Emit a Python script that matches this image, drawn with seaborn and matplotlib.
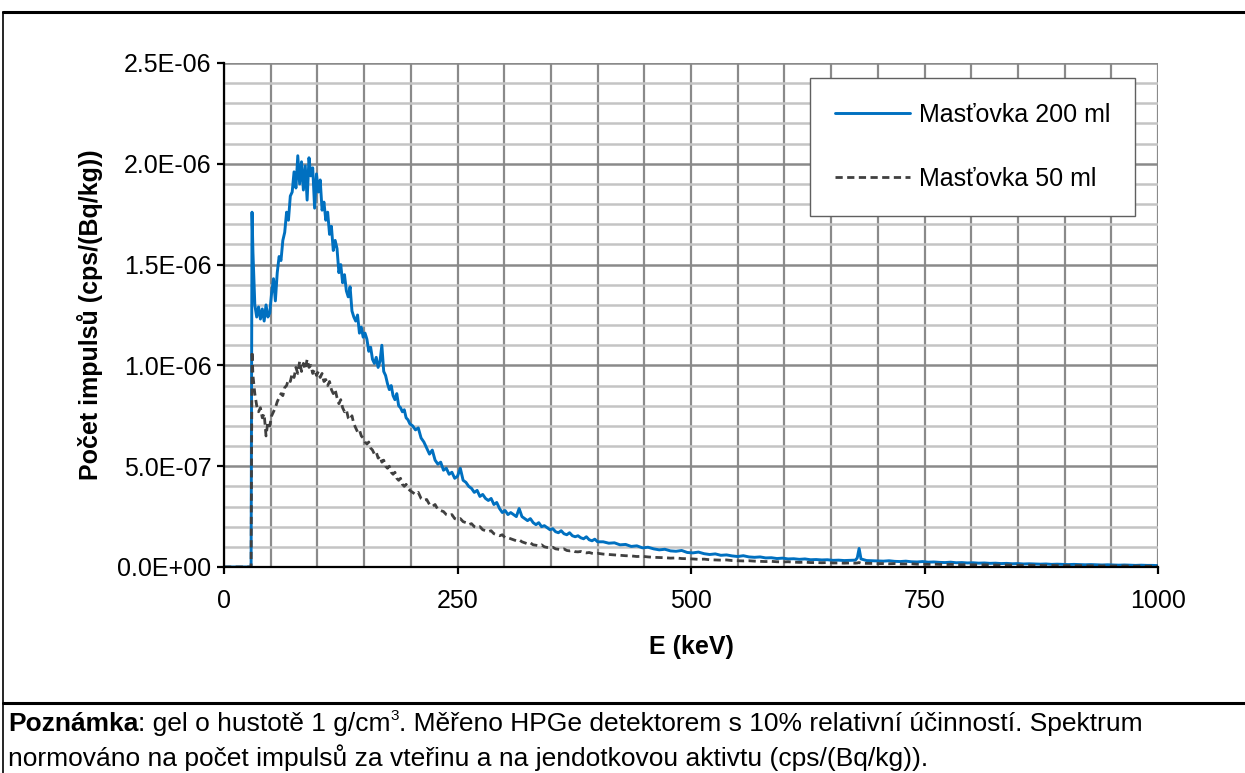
import numpy as np
import pandas as pd
import matplotlib
matplotlib.use("Agg")
import matplotlib.pyplot as plt
from matplotlib.lines import Line2D
from matplotlib.ticker import MultipleLocator, FuncFormatter
import seaborn as sns

# ---------------- data (values in units of 1E-7 cps/(Bq/kg)) ----------------
energy_start = [0, 29, 30]
blue_start = [0.0, 0.0, 17.6]
black_start = [0.0, 0.0, 10.7]

energy_low = [31, 33, 35, 37, 39, 41, 43, 45, 47, 49,
              51, 53, 55, 57, 59, 61, 63, 65, 67, 69,
              71, 73, 75, 77, 79, 81, 83, 85, 87, 89,
              91, 93, 95, 97, 99, 101, 103, 105, 107, 109,
              111, 113, 115, 117, 119, 121, 123, 125, 127, 129,
              131, 133, 135, 137, 139, 141, 143, 145, 147, 149,
              151, 153, 155, 157, 159, 161, 163, 165, 167, 169,
              171, 173, 175, 177, 179, 181, 183, 185, 187, 189,
              191, 193, 195, 197, 199]
blue_low = [15.6, 13.0, 12.4, 12.9, 12.3, 12.8, 12.2, 13.0, 12.4, 12.6,
            13.6, 14.3, 13.2, 14.6, 15.4, 15.2, 16.2, 16.6, 17.6, 17.2,
            18.4, 18.6, 19.6, 18.8, 20.4, 19.0, 20.1, 18.7, 19.9, 18.2,
            20.3, 19.4, 19.8, 17.8, 19.5, 18.6, 19.2, 17.7, 18.1, 17.2,
            17.6, 16.5, 16.9, 15.7, 16.2, 15.8, 14.6, 15.0, 14.1, 14.5,
            13.7, 13.4, 13.9, 12.7, 12.4, 12.2, 12.5, 11.6, 11.9, 11.4,
            11.6, 11.3, 10.7, 10.9, 10.3, 10.1, 10.4, 9.9, 10.2, 11.0,
            9.7, 9.5, 9.1, 8.8, 9.0, 8.5, 8.3, 8.6, 8.0, 7.9,
            7.7, 7.8, 7.4, 7.3, 7.1]
black_low = [9.5, 8.6, 8.0, 7.7, 7.9, 7.4, 7.6, 6.5, 7.2, 7.0,
             7.5, 7.7, 7.9, 8.2, 8.4, 8.6, 8.5, 8.9, 9.0, 9.3,
             9.2, 9.6, 9.4, 9.9, 9.6, 10.2, 9.7, 10.1, 9.8, 10.3,
             9.9, 10.0, 9.6, 9.8, 9.5, 9.7, 9.4, 9.6, 9.2, 9.3,
             9.0, 9.2, 8.8, 8.6, 8.8, 8.4, 8.1, 8.3, 7.9, 7.7,
             7.8, 7.4, 7.3, 7.5, 7.1, 6.9, 6.7, 6.8, 6.5, 6.4,
             6.2, 6.1, 6.2, 5.9, 5.8, 5.6, 5.7, 5.4, 5.5, 5.2,
             5.3, 5.0, 4.9, 5.0, 4.7, 4.6, 4.7, 4.4, 4.3, 4.4,
             4.1, 4.0, 4.1, 3.9, 3.8]

energy_mid = [202, 205, 208, 211, 214, 217, 220, 223, 226, 229,
              232, 235, 238, 241, 244, 247, 250, 253, 256, 259,
              262, 265, 268, 271, 274, 277, 280, 283, 286, 289,
              292, 295, 298, 301, 304, 307, 310, 313, 316, 319,
              322, 325, 328, 331, 334, 337, 340, 343, 346, 349,
              352, 355, 358, 361, 364, 367, 370, 373, 376, 379,
              382, 385, 388, 391, 394, 397, 400]
blue_mid = [7.0, 6.8, 6.9, 6.4, 6.2, 5.9, 5.6, 5.8, 5.3, 5.1,
            5.2, 4.8, 4.9, 4.6, 4.7, 4.4, 4.5, 4.9, 4.3, 4.2,
            4.0, 3.9, 3.7, 3.8, 3.5, 3.6, 3.4, 3.3, 3.4, 3.1,
            3.2, 2.9, 2.7, 2.8, 2.6, 2.7, 2.6, 2.5, 2.9, 2.5,
            2.4, 2.3, 2.4, 2.2, 2.1, 2.2, 2.0, 2.05, 1.95, 1.85,
            1.9, 1.75, 1.7, 1.8, 1.65, 1.6, 1.7, 1.55, 1.5, 1.55,
            1.45, 1.4, 1.5, 1.35, 1.3, 1.38, 1.25]
black_mid = [3.7, 3.6, 3.7, 3.4, 3.3, 3.35, 3.1, 3.0, 3.1, 2.85,
             2.8, 2.75, 2.6, 2.55, 2.6, 2.4, 2.35, 2.4, 2.25, 2.2,
             2.1, 2.15, 2.0, 1.95, 2.0, 1.85, 1.8, 1.75, 1.8, 1.65,
             1.6, 1.55, 1.6, 1.45, 1.45, 1.4, 1.35, 1.3, 1.35, 1.25,
             1.2, 1.15, 1.2, 1.1, 1.08, 1.05, 1.1, 1.0, 0.97, 0.95,
             0.98, 0.9, 0.88, 0.86, 0.9, 0.82, 0.8, 0.82, 0.76, 0.75,
             0.77, 0.72, 0.7, 0.72, 0.68, 0.66, 0.68]

energy_high = [406, 412, 418, 424, 430, 436, 442, 448, 454, 460,
               466, 472, 478, 484, 490, 496, 502, 508, 514, 520,
               526, 532, 538, 544, 550, 556, 562, 568, 574, 580,
               586, 592, 598, 604, 610, 616, 622, 628, 634, 640,
               646, 652, 658, 664, 670, 676, 678, 680, 682, 688,
               694, 700, 706, 712, 718, 724, 730, 736, 742, 748,
               754, 760, 766, 772, 778, 784, 790, 796, 802, 808,
               814, 820, 826, 832, 838, 844, 850, 856, 862, 868,
               874, 880, 886, 892, 898, 904, 910, 916, 922, 928,
               934, 940, 946, 952, 958, 964, 970, 976, 982, 988,
               994, 1000]
blue_high = [1.25, 1.18, 1.2, 1.1, 1.12, 1.02, 1.05, 0.95, 0.98, 0.9,
             0.85, 0.88, 0.8, 0.78, 0.82, 0.72, 0.7, 0.74, 0.66, 0.62,
             0.65, 0.58, 0.6, 0.55, 0.52, 0.56, 0.5, 0.48, 0.5, 0.45,
             0.46, 0.42, 0.44, 0.4, 0.41, 0.38, 0.4, 0.36, 0.37, 0.35,
             0.36, 0.33, 0.34, 0.32, 0.33, 0.34, 0.45, 0.92, 0.4, 0.32,
             0.31, 0.3, 0.29, 0.31, 0.28, 0.27, 0.29, 0.26, 0.25, 0.27,
             0.24, 0.25, 0.23, 0.22, 0.24, 0.21, 0.22, 0.2, 0.21, 0.19,
             0.2, 0.18, 0.19, 0.17, 0.18, 0.16, 0.17, 0.15, 0.16, 0.15,
             0.14, 0.15, 0.13, 0.14, 0.13, 0.12, 0.13, 0.12, 0.11, 0.12,
             0.11, 0.1, 0.11, 0.1, 0.09, 0.1, 0.09, 0.08, 0.09, 0.08,
             0.08, 0.07]
black_high = [0.64, 0.62, 0.6, 0.58, 0.56, 0.55, 0.52, 0.53, 0.5, 0.48,
              0.47, 0.46, 0.44, 0.45, 0.42, 0.41, 0.4, 0.38, 0.39, 0.36,
              0.35, 0.34, 0.35, 0.32, 0.31, 0.3, 0.31, 0.29, 0.28, 0.27,
              0.28, 0.26, 0.25, 0.26, 0.24, 0.23, 0.24, 0.22, 0.22, 0.21,
              0.22, 0.2, 0.2, 0.19, 0.2, 0.19, 0.2, 0.22, 0.19, 0.18,
              0.18, 0.17, 0.17, 0.16, 0.17, 0.15, 0.15, 0.16, 0.14, 0.14,
              0.13, 0.14, 0.13, 0.12, 0.13, 0.12, 0.11, 0.12, 0.11, 0.1,
              0.11, 0.1, 0.1, 0.09, 0.1, 0.09, 0.09, 0.08, 0.09, 0.08,
              0.08, 0.07, 0.08, 0.07, 0.07, 0.07, 0.06, 0.07, 0.06, 0.06,
              0.06, 0.05, 0.06, 0.05, 0.05, 0.05, 0.05, 0.04, 0.05, 0.04,
              0.04, 0.04]

series_labels = ["Masťovka 200 ml", "Masťovka 50 ml"]
x_ticks = [0, 250, 500, 750, 1000]
y_ticks = [0.0, 5e-7, 1.0e-6, 1.5e-6, 2.0e-6, 2.5e-6]
x_label = "E (keV)"
y_label = "Počet impulsů (cps/(Bq/kg))"
note_bold = "Poznámka"
note_rest1a = ": gel o hustotě 1 g/cm"
note_sup = "3"
note_rest1b = ". Měřeno HPGe detektorem s 10% relativní účinností. Spektrum"
note_line2 = "normováno na počet impulsů za vteřinu a na jendotkovou aktivtu (cps/(Bq/kg))."

# ---------------- build frames ----------------
energy = energy_start + energy_low + energy_mid + energy_high
blue = blue_start + blue_low + blue_mid + blue_high
black = black_start + black_low + black_mid + black_high
assert len(energy) == len(blue) == len(black)
unit = 1e-7
df_blue = pd.DataFrame({"E": energy, "v": np.array(blue) * unit})
df_black = pd.DataFrame({"E": energy, "v": np.array(black) * unit})

# ---------------- style ----------------
sns.set_theme(style="white")
plt.rcParams["font.family"] = ["Liberation Sans", "DejaVu Sans"]
FS = 18
FS_NOTE = 19

W, H = 1245, 773
fig = plt.figure(figsize=(W / 100, H / 100), dpi=100)
ax = fig.add_axes([224 / W, 1 - 567 / H, (1158 - 224) / W, (567 - 63) / H])

sns.lineplot(data=df_blue, x="E", y="v", ax=ax, color="#0070C0", linewidth=2.1,
             estimator=None, sort=False, label=series_labels[0], zorder=3)
sns.lineplot(data=df_black, x="E", y="v", ax=ax, color="#404040", linewidth=2.0,
             estimator=None, sort=False, label=series_labels[1], zorder=4)
ax.lines[1].set_linestyle((0, (2.6, 1.6)))

ax.set_xlim(0, 1000)
ax.set_ylim(0, 2.5e-6)
ax.set_xticks(x_ticks)
ax.set_yticks(y_ticks)
ax.xaxis.set_minor_locator(MultipleLocator(50))
ax.yaxis.set_minor_locator(MultipleLocator(1e-7))
ax.yaxis.set_major_formatter(FuncFormatter(lambda v, p: f"{v:.1E}"))

ax.set_axisbelow(True)
ax.grid(which="minor", axis="y", color="#c4c4c4", linewidth=1.8)
ax.grid(which="major", axis="y", color="#8a8a8a", linewidth=1.8)
ax.grid(which="both", axis="x", color="#8a8a8a", linewidth=1.6)

for s in ["top", "right"]:
    ax.spines[s].set_visible(False)
for s in ["left", "bottom"]:
    ax.spines[s].set_color("black")
    ax.spines[s].set_linewidth(1.6)
    ax.spines[s].set_zorder(5)

ax.tick_params(which="major", direction="out", length=5, width=1.6, color="black",
               labelsize=FS, labelcolor="black", left=True, bottom=True)
ax.tick_params(axis="y", which="major", pad=4)
ax.tick_params(axis="x", which="major", pad=11)
ax.tick_params(which="minor", length=0)

ax.set_xlabel(x_label, fontsize=FS, fontweight="bold", color="black")
ax.set_ylabel(y_label, fontsize=FS, fontweight="bold", color="black")
ax.xaxis.set_label_coords(0.5, -0.135)
ax.yaxis.set_label_coords(-0.13, 0.5)

leg = ax.legend(loc="upper right", bbox_to_anchor=((1135 - 224) / 934, (567 - 78) / 504),
                borderaxespad=0, fontsize=FS, frameon=True, fancybox=False,
                framealpha=1, edgecolor="#606060", handlelength=3.0,
                handletextpad=0.35, labelspacing=1.6, borderpad=1.0)
leg.get_frame().set_linewidth(1.0)
for t in leg.get_texts():
    t.set_color("black")

# ---------------- figure frame lines ----------------
lc = "black"
fig.add_artist(Line2D([3 / W, 3 / W], [0, 1 - 12 / H], color=lc, lw=1.2))
fig.add_artist(Line2D([3 / W, 1], [1 - 12 / H, 1 - 12 / H], color=lc, lw=2.2))
fig.add_artist(Line2D([3 / W, 1], [1 - 703 / H, 1 - 703 / H], color=lc, lw=2.2))

# ---------------- note ----------------
t1 = fig.text(8 / W, 1 - 736 / H, note_bold, fontsize=FS_NOTE, fontweight="bold",
              color="black", ha="left", va="bottom")
t2 = ax.annotate(note_rest1a, xy=(1, 0), xycoords=t1, fontsize=FS_NOTE, color="black",
                 ha="left", va="bottom", annotation_clip=False)
t3 = ax.annotate(note_sup, xy=(1, 0.55), xycoords=t2, fontsize=11, color="black",
                 ha="left", va="bottom", annotation_clip=False)
fig.canvas.draw()
bb2 = t2.get_window_extent()
bb3 = t3.get_window_extent()
fig.text(bb3.x1 / fig.dpi / fig.get_figwidth(), bb2.y0 / fig.dpi / fig.get_figheight(),
         note_rest1b, fontsize=FS_NOTE, color="black", ha="left", va="bottom")
fig.text(8 / W, 1 - 771 / H, note_line2, fontsize=FS_NOTE, color="black", ha="left", va="bottom")

fig.savefig("out.png", dpi=100)
